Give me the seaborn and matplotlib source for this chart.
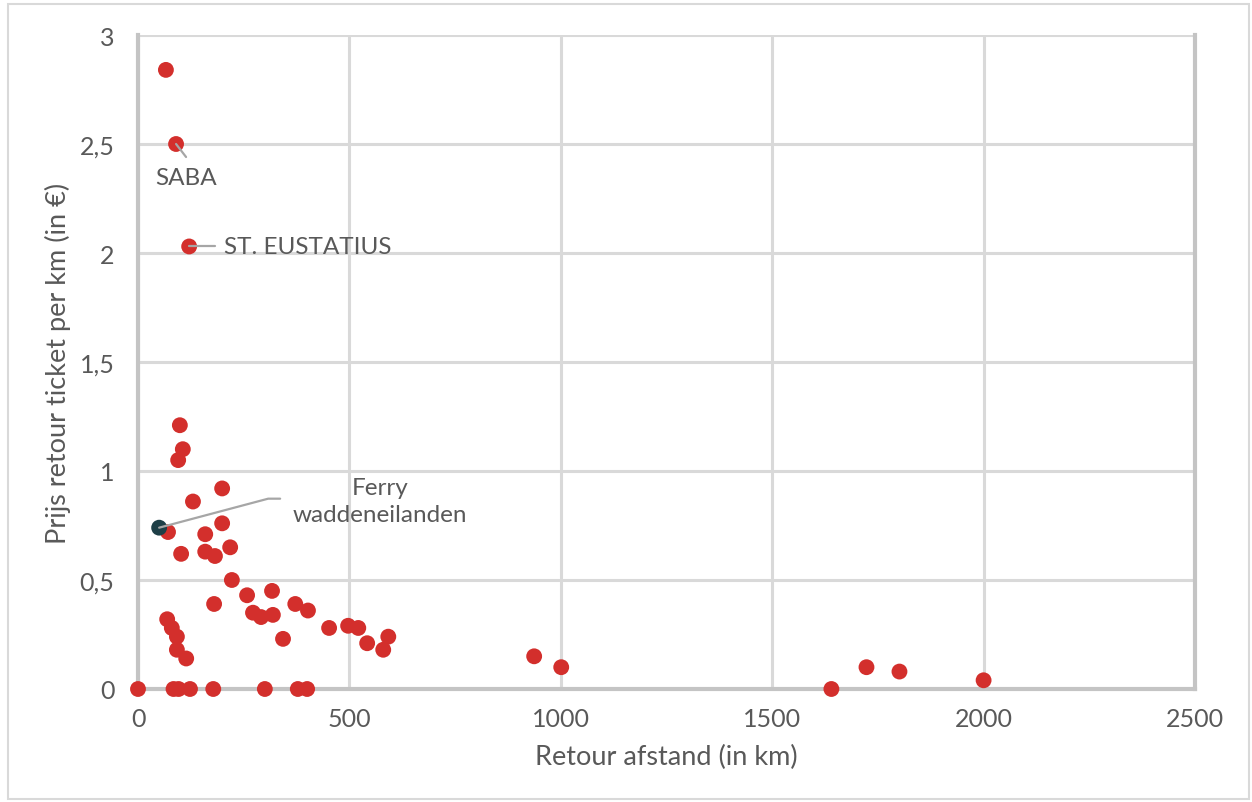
import matplotlib
matplotlib.use("Agg")
import matplotlib.pyplot as plt
import seaborn as sns
import pandas as pd
from matplotlib.patches import Rectangle
from matplotlib.lines import Line2D
from matplotlib.ticker import FuncFormatter

# ---- data ----
distance_km = [66, 90, 121, 99, 106, 95, 199, 130, 71, 199, 159, 102, 159, 182, 218,
               222, 258, 317, 180, 272, 291, 319, 343, 372, 402, 69, 80, 92, 92, 114,
               452, 497, 521, 542, 580, 592, 937, 1001, 1640, 1723, 1801, 2000,
               0, 84, 96, 123, 178, 300, 378, 400]
price_per_km = [2.84, 2.50, 2.03, 1.21, 1.10, 1.05, 0.92, 0.86, 0.72, 0.76, 0.71, 0.62, 0.63, 0.61, 0.65,
                0.50, 0.43, 0.45, 0.39, 0.35, 0.33, 0.34, 0.23, 0.39, 0.36, 0.32, 0.28, 0.24, 0.18, 0.14,
                0.28, 0.29, 0.28, 0.21, 0.18, 0.24, 0.15, 0.10, 0.0, 0.10, 0.08, 0.04,
                0.0, 0.0, 0.0, 0.0, 0.0, 0.0, 0.0, 0.0]
ferry_distance = [50]
ferry_price = [0.74]

x_ticks = [0, 500, 1000, 1500, 2000, 2500]
y_ticks = [0, 0.5, 1, 1.5, 2, 2.5, 3]

x_label = "Retour afstand (in km)"
y_label = "Prijs retour ticket per km (in €)"

saba_label = "SABA"
eust_label = "ST. EUSTATIUS"
ferry_label = "Ferry\nwaddeneilanden"

# ---- style ----
sns.set_theme(style="white")
plt.rcParams['font.family'] = ['Lato', 'DejaVu Sans']

TXT = "#595959"
RED = "#d32f2c"
DARK = "#1e3f47"

fig = plt.figure(figsize=(12.52, 8.03), dpi=100)
ax = fig.add_axes([138/1252, 1-690/803, (1195-138)/1252, (690-36)/803])

df = pd.DataFrame({"x": distance_km, "y": price_per_km})
dff = pd.DataFrame({"x": ferry_distance, "y": ferry_price})

sns.scatterplot(data=df, x="x", y="y", ax=ax, color=RED, s=130, edgecolor="none",
                zorder=3, clip_on=False)
sns.scatterplot(data=dff, x="x", y="y", ax=ax, color=DARK, s=130, edgecolor="none",
                zorder=4, clip_on=False)

ax.set_xlim(0, 2500)
ax.set_ylim(0, 3)
ax.set_xticks(x_ticks)
ax.set_yticks(y_ticks)
ax.yaxis.set_major_formatter(FuncFormatter(lambda v, p: (f"{v:g}").replace(".", ",")))
ax.tick_params(axis="both", length=0, labelsize=18, colors=TXT)
ax.tick_params(axis="x", pad=13)
ax.tick_params(axis="y", pad=17)

ax.grid(True, color="#d9d9d9", linewidth=2.2)
ax.set_axisbelow(True)
for s in ["left", "bottom", "right"]:
    ax.spines[s].set_visible(True)
    ax.spines[s].set_color("#c4c4c4")
    ax.spines[s].set_linewidth(3)
ax.spines["top"].set_visible(False)

ax.set_xlabel(x_label, fontsize=19.5, color=TXT, labelpad=10)
ax.set_ylabel(y_label, fontsize=19.5, color=TXT, labelpad=6)

# ---- annotations (pixel offsets from data points) ----
fig.canvas.draw()
W, H = 1252, 803

def disp(px, py):
    return ax.transData.transform((px, py))

def seg(p, pts):
    xs = [p[0] + dx for dx, dy in pts]
    ys = [p[1] - dy for dx, dy in pts]
    fig.add_artist(Line2D(xs, ys, transform=None, color="#a6a6a6", lw=1.6, zorder=2))

# SABA
p = disp(distance_km[1], price_per_km[1])
seg(p, [(0, 0), (10, 13)])
fig.text((p[0] + 10) / W, (p[1] - 33) / H, saba_label, ha="center", va="center",
         fontsize=17.5, color=TXT)

# ST. EUSTATIUS
p = disp(distance_km[2], price_per_km[2])
seg(p, [(0, 0), (26, 0)])
fig.text((p[0] + 35) / W, (p[1]) / H, eust_label, ha="left", va="center",
         fontsize=17.5, color=TXT)

# Ferry
p = disp(ferry_distance[0], ferry_price[0])
seg(p, [(0, 0), (109, -29), (121, -29)])
fig.text((p[0] + 221) / W, (p[1] + 27) / H, ferry_label, ha="center", va="center",
         fontsize=17.5, color=TXT, linespacing=1.35)

# outer frame
fig.add_artist(Rectangle((8/W, 3/H), 1241/W, 795/H, transform=fig.transFigure,
                         fill=False, edgecolor="#d9d9d9", lw=1.5))

fig.savefig("out.png", dpi=100)
